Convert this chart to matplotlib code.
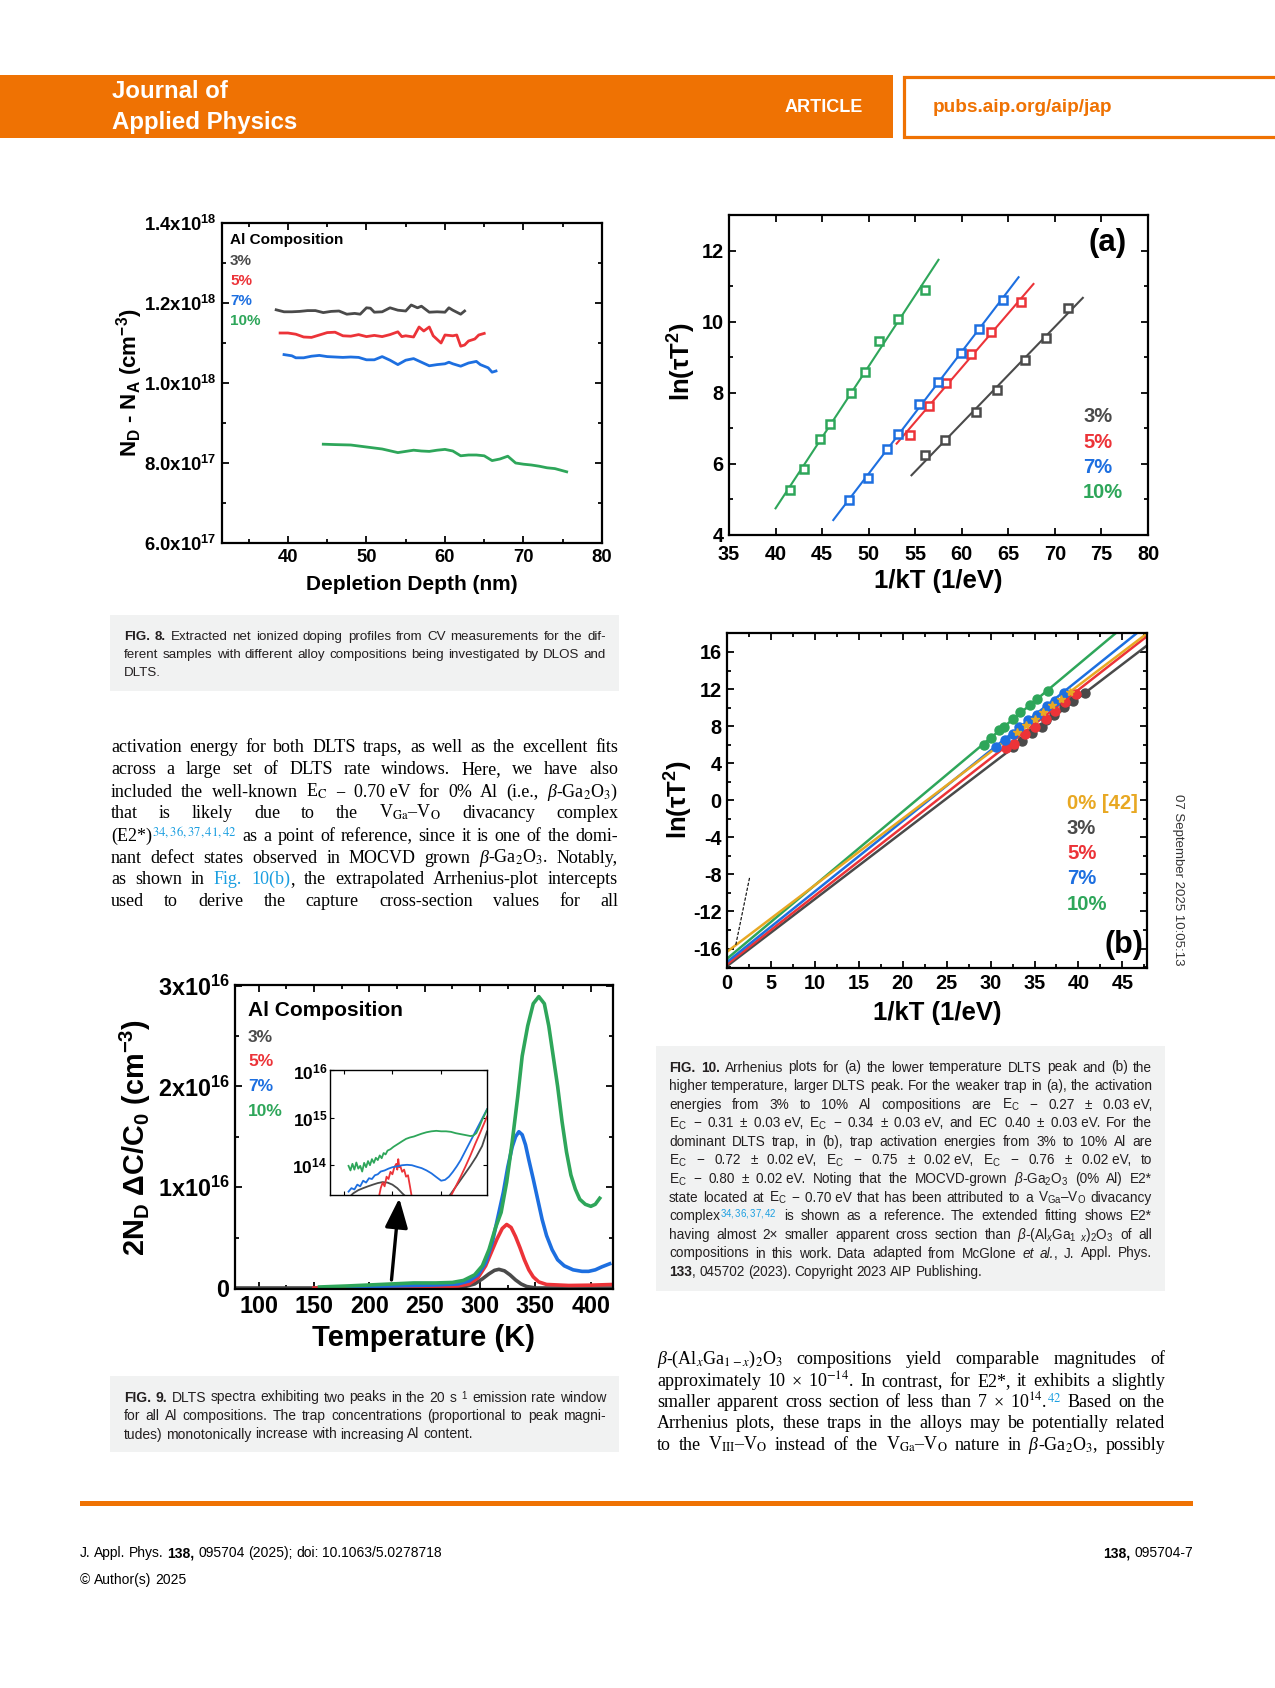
import numpy as np
import matplotlib
matplotlib.use('Agg')
import matplotlib.pyplot as plt
from matplotlib import font_manager
from matplotlib.patches import Rectangle
from matplotlib.ticker import MultipleLocator, FixedLocator, NullFormatter

# ---------------- data ----------------
# Fig. 8 : net doping profiles (depth nm, N_D-N_A in 1e18 cm^-3)
d3_x = [38.5, 39.5, 40.5, 41.5, 42.5, 43.5, 44.5, 45.5, 46.5, 47.5, 48.5, 49.2, 50.0, 50.5, 51.0,
        52.0, 53.0, 54.0, 55.0, 55.7, 56.5, 57.0, 58.0, 59.0, 60.0, 60.5, 61.0, 62.0, 62.5]
d3_y = [1.183, 1.178, 1.178, 1.179, 1.181, 1.181, 1.176, 1.179, 1.180, 1.172, 1.174, 1.172, 1.188, 1.187, 1.177,
        1.178, 1.188, 1.182, 1.180, 1.195, 1.188, 1.192, 1.177, 1.178, 1.177, 1.188, 1.182, 1.172, 1.180]
d5_x = [39, 40, 41, 42, 43, 44, 45, 46, 47, 48, 49, 50, 51, 52, 53, 54, 54.5, 55, 56, 56.7, 57.3,
        58, 58.5, 59.5, 60, 61, 61.5, 62, 62.5, 63, 63.8, 64.3, 65]
d5_y = [1.125, 1.125, 1.122, 1.115, 1.114, 1.120, 1.126, 1.127, 1.118, 1.117, 1.121, 1.116, 1.119, 1.116,
        1.121, 1.128, 1.116, 1.118, 1.115, 1.140, 1.130, 1.140, 1.118, 1.100, 1.120, 1.118, 1.120, 1.092,
        1.095, 1.105, 1.110, 1.120, 1.124]
d7_x = [39.5, 40.5, 41, 42, 43, 44, 45, 46, 47, 48, 49, 50, 51, 52, 53, 54, 55, 56, 57, 58, 59, 60,
        60.5, 61, 62, 63, 64, 64.5, 65.5, 66, 66.5]
d7_y = [1.071, 1.068, 1.063, 1.063, 1.067, 1.069, 1.066, 1.065, 1.064, 1.065, 1.064, 1.058, 1.058, 1.066,
        1.057, 1.046, 1.057, 1.061, 1.052, 1.043, 1.046, 1.048, 1.052, 1.048, 1.042, 1.050, 1.054, 1.046,
        1.038, 1.027, 1.030]
d10_x = [44.5, 46, 48, 50, 52, 54, 55, 56, 57, 58, 59, 60, 61, 62, 63, 64, 65, 66, 67, 68, 69, 70, 71,
         72, 73, 74, 75.5]
d10_y = [0.847, 0.846, 0.845, 0.840, 0.835, 0.826, 0.829, 0.832, 0.830, 0.829, 0.832, 0.834, 0.830, 0.818,
         0.820, 0.820, 0.818, 0.806, 0.810, 0.817, 0.800, 0.797, 0.795, 0.792, 0.788, 0.786, 0.778]
dop_ticks = [0.6e18, 0.8e18, 1.0e18, 1.2e18, 1.4e18]
dop_labels = ['6.0x10$^{\\mathbf{17}}$', '8.0x10$^{\\mathbf{17}}$', '1.0x10$^{\\mathbf{18}}$',
              '1.2x10$^{\\mathbf{18}}$', '1.4x10$^{\\mathbf{18}}$']

# Fig. 10(a) : lower temperature peak
a3_x = [56.1, 58.2, 61.5, 63.8, 66.8, 69.0, 71.4]
a3_y = [6.25, 6.67, 7.46, 8.09, 8.91, 9.55, 10.38]
a5_x = [54.4, 56.5, 58.3, 61.0, 63.1, 66.4]
a5_y = [6.8, 7.63, 8.27, 9.08, 9.7, 10.55]
a7_x = [47.9, 49.9, 52.0, 53.2, 55.4, 57.4, 59.9, 61.9, 64.4]
a7_y = [4.98, 5.59, 6.43, 6.83, 7.68, 8.3, 9.12, 9.78, 10.61]
a10_x = [41.6, 43.1, 44.8, 45.9, 48.1, 49.6, 51.1, 53.1, 56.0]
a10_y = [5.26, 5.87, 6.71, 7.13, 7.98, 8.58, 9.45, 10.08, 10.89]
a3_fit = ([54.6, 73.0], [5.68, 10.67])
a5_fit = ([53.0, 67.7], [6.57, 11.06])
a7_fit = ([46.2, 66.1], [4.42, 11.25])
a10_fit = ([40.0, 57.5], [4.75, 11.74])

# Fig. 10(b) : dominant trap, extrapolated fits
b3_x = [32.6, 33.6, 34.7, 35.9, 36.3, 37.2, 38.3, 39.4, 40.7]
b3_y = [5.7, 6.35, 7.25, 7.96, 8.7, 9.15, 10.05, 10.67, 11.57]
b5_x = [31.8, 32.7, 33.9, 35.1, 36.3, 37.3, 38.5, 39.7]
b5_y = [5.6, 6.1, 7.1, 7.9, 8.8, 9.6, 10.6, 11.5]
b7_x = [30.6, 31.6, 32.6, 33.2, 34.3, 35.3, 36.4, 37.3, 38.4]
b7_y = [5.8, 6.5, 7.2, 7.9, 8.7, 9.2, 10.2, 10.7, 11.6]
b10_x = [29.2, 30.1, 31.0, 31.5, 32.6, 33.4, 34.5, 35.3, 36.5]
b10_y = [5.98, 6.7, 7.6, 7.96, 8.76, 9.48, 10.3, 10.9, 11.75]
b0_x = [33, 34, 35, 36, 37, 38, 39]
b0_y = [7.36, 8.08, 8.8, 9.52, 10.24, 10.96, 11.68]
b0_fit = ([0, 47.8], [-16.35, 18.0])
b3_fit = ([0, 47.8], [-17.9, 16.7])
b5_fit = ([0, 47.8], [-17.7, 17.7])
b7_fit = ([0, 46.6], [-17.45, 18.0])
b10_fit = ([0, 44.2], [-17.1, 18.0])
b_guide = ([1.0, 2.6], [-15.6, -8.2])

# Fig. 9 : DLTS spectra (T in K, signal in 1e16 cm^-3)
t3 = [79, 200, 270, 285, 295, 302, 308, 313, 317, 322, 327, 332, 337, 342, 350, 420]
s3 = [0, 0, 0, 0.01, 0.04, 0.09, 0.14, 0.175, 0.185, 0.17, 0.13, 0.08, 0.04, 0.015, 0, 0]
t5 = [150, 200, 260, 280, 290, 298, 305, 310, 315, 320, 324, 328, 332, 336, 340, 344, 348, 353, 360,
      380, 400, 420]
s5 = [0.0, 0.005, 0.01, 0.02, 0.04, 0.1, 0.22, 0.35, 0.48, 0.59, 0.63, 0.6, 0.51, 0.4, 0.28, 0.18,
      0.11, 0.06, 0.035, 0.025, 0.028, 0.035]
t7 = [180, 220, 260, 280, 290, 298, 305, 311, 316, 321, 325, 329, 332, 335, 338, 341, 344, 348, 352,
      356, 360, 365, 370, 376, 384, 392, 398, 404, 410, 417]
s7 = [0.01, 0.02, 0.03, 0.04, 0.07, 0.13, 0.25, 0.45, 0.7, 0.95, 1.2, 1.4, 1.5, 1.55, 1.52, 1.42, 1.27,
      1.08, 0.88, 0.68, 0.52, 0.38, 0.28, 0.22, 0.18, 0.165, 0.165, 0.18, 0.21, 0.24]
t10 = [155, 180, 200, 220, 240, 260, 275, 285, 295, 302, 308, 314, 319, 324, 329, 334, 338, 343, 348,
       353, 358, 362, 366, 370, 374, 378, 382, 386, 390, 395, 400, 404, 408]
s10 = [0.01, 0.02, 0.03, 0.04, 0.05, 0.05, 0.055, 0.075, 0.13, 0.22, 0.38, 0.6, 0.75, 1.05, 1.45, 1.9,
       2.3, 2.6, 2.82, 2.89, 2.82, 2.6, 2.3, 2.0, 1.65, 1.35, 1.12, 0.98, 0.88, 0.83, 0.81, 0.83, 0.89]
dlts_ticks = [0, 1e16, 2e16, 3e16]
dlts_labels = ['0', '1x10$^{\\mathbf{16}}$', '2x10$^{\\mathbf{16}}$', '3x10$^{\\mathbf{16}}$']
arrow_tail = (220, 0.08e16)
arrow_tip = (227, 0.89e16)

# Fig. 9 inset, log scale (signal in 1e14 cm^-3)
i10_t = [155, 157, 159, 161, 163, 165, 167, 169, 171, 173, 175, 177, 179, 181, 183, 185, 187, 189, 191,
         193, 195, 198, 201, 204, 207, 210, 214, 218, 222, 226, 230, 235, 240, 245, 250, 255, 260, 265,
         270, 275, 280, 283, 286, 289, 292, 295, 297]
i10_s = [0.95, 0.76, 1.05, 0.79, 1.12, 0.83, 0.95, 0.72, 1.10, 0.89, 1.20, 0.98, 1.32, 1.10, 1.41, 1.26,
         1.58, 1.38, 1.78, 1.66, 2.0, 2.14, 2.4, 2.63, 2.88, 3.16, 3.55, 3.8, 3.98, 4.27, 4.57, 4.9, 5.13,
         5.25, 5.13, 5.13, 5.0, 4.68, 4.47, 4.27, 4.07, 4.17, 4.68, 6.3, 8.9, 12.0, 14.8]
i7_t = [155, 158, 161, 164, 167, 170, 173, 176, 179, 182, 185, 188, 192, 196, 200, 205, 210, 215, 220,
        225, 230, 235, 240, 245, 250, 254, 258, 262, 266, 270, 275, 280, 285, 290, 297]
i7_s = [0.27, 0.32, 0.30, 0.38, 0.35, 0.46, 0.42, 0.52, 0.50, 0.60, 0.63, 0.72, 0.76, 0.83, 0.89, 0.93,
        0.98, 1.0, 0.98, 0.91, 0.85, 0.76, 0.66, 0.55, 0.46, 0.48, 0.56, 0.71, 0.93, 1.26, 2.0, 3.16,
        5.0, 7.9, 15.1]
i5_t = [186, 188, 190, 192, 194, 196, 198, 200, 202, 204, 205, 206, 207, 208, 210, 212, 214, 216, 218,
        220, np.nan, 259, 265, 270, 275, 280, 285, 290, 297]
i5_s = [0.2, 0.32, 0.42, 0.35, 0.56, 0.5, 0.71, 0.63, 0.89, 1.05, 0.79, 1.32, 0.89, 0.95, 0.71, 0.79,
        0.56, 0.6, 0.35, 0.2, np.nan, 0.2, 0.35, 0.56, 0.93, 1.58, 2.8, 4.8, 10.5]
i3_t = [155, 160, 165, 170, 175, 180, 185, 190, 195, 200, 205, 210, 215, np.nan,
        257, 262, 268, 274, 280, 286, 292, 297]
i3_s = [0.2, 0.25, 0.29, 0.32, 0.35, 0.38, 0.41, 0.43, 0.42, 0.38, 0.32, 0.25, 0.2, np.nan,
        0.2, 0.28, 0.42, 0.63, 0.95, 1.48, 2.5, 5.1]

comps = ['3%', '5%', '7%', '10%']

# ---------------- style ----------------
W, H = 1275, 1688
ORANGE = '#ef7203'
GREY = '#4a4a4a'
RED = '#ec3338'
BLUE = '#1d6fe0'
GREEN = '#2ea65a'
GOLD = '#e8a823'
LINK = '#1a9ee0'
BOXC = '#f1f2f2'
colors = [GREY, RED, BLUE, GREEN]

plt.rcParams['font.family'] = ['Liberation Sans', 'DejaVu Sans']
plt.rcParams['axes.unicode_minus'] = False
plt.rcParams['mathtext.fontset'] = 'custom'
plt.rcParams['mathtext.rm'] = 'Liberation Sans'
plt.rcParams['mathtext.it'] = 'Liberation Sans:italic'
plt.rcParams['mathtext.bf'] = 'Liberation Sans:bold'


def has_font(name):
    try:
        font_manager.findfont(font_manager.FontProperties(family=name), fallback_to_default=False)
        return True
    except ValueError:
        return False


NARROW = has_font('Liberation Sans Narrow')
CAP_FAM = ['Liberation Sans Narrow', 'DejaVu Sans'] if NARROW else ['Liberation Sans', 'DejaVu Sans']
CAP_SIZE = 10.5 if NARROW else 10
SERIF = ['Liberation Serif', 'DejaVu Serif']

fig = plt.figure(figsize=(W / 100, H / 100), dpi=100)
fig.patch.set_facecolor('white')
rend = fig.canvas.get_renderer()


def px_axes(l, t, r, b):
    return fig.add_axes([l / W, 1 - b / H, (r - l) / W, (b - t) / H])


def ptext(x, y, s, **kw):
    return fig.text(x / W, 1 - y / H, s, **kw)


def btext(x, y, s, **kw):
    return ptext(x, y, s, weight='bold', **kw)


def rect(l, t, r, b, **kw):
    fig.add_artist(Rectangle((l / W, 1 - b / H), (r - l) / W, (b - t) / H,
                             transform=fig.transFigure, **kw))


def style(ax, size, lw=1.5, xpad=4):
    for s in ax.spines.values():
        s.set_linewidth(lw)
    ax.tick_params(which='both', direction='in', top=True, right=True, width=lw * 0.8,
                   labelsize=size, pad=4)
    ax.tick_params(axis='x', pad=xpad)
    ax.tick_params(which='major', length=5)
    ax.tick_params(which='minor', length=3)
    plt.setp(ax.get_xticklabels() + ax.get_yticklabels(), fontweight='bold')


# word helpers for the text blocks
def B(s):
    return {'s': s, 'weight': 'bold'}


def I(s):
    return {'s': s, 'style': 'italic'}


def L(s):
    return {'s': s, 'color': LINK}


def D(s):
    return {'s': s}


def words(*parts):
    out = []
    for p in parts:
        if isinstance(p, str):
            out += p.split()
        else:
            out.append(p)
    return out


def put_block(lines, x0, x1, size, family, color='#231f20', mfam=None):
    # lines: (baseline y, word list, align); one common font size per block
    built = []
    for y, wl, align in lines:
        rows = []
        for w in wl:
            pieces = w if isinstance(w, list) else [w]
            row = []
            for p in pieces:
                kw = dict(p) if isinstance(p, dict) else {'s': p}
                s = kw.pop('s')
                kw.setdefault('weight', 'normal')
                kw.setdefault('color', color)
                t = ptext(0, y, s, fontsize=size, family=family, va='baseline', ha='left', **kw)
                if mfam:
                    t.set_math_fontfamily(mfam)
                row.append(t)
            rows.append(row)
        built.append((y, rows, align))

    def measure(rows):
        return [[t.get_window_extent(rend).width for t in row] for row in rows]

    avail = x1 - x0
    gap0 = size * 100 / 72 * 0.26
    f = 1.0
    for y, rows, align in built:
        tot = sum(sum(r) for r in measure(rows))
        f = min(f, (avail - gap0 * (len(rows) - 1)) / tot * 0.99)
    if f < 1:
        for y, rows, align in built:
            for row in rows:
                for t in row:
                    t.set_fontsize(size * f)
        gap0 *= f
    for y, rows, align in built:
        ws = measure(rows)
        total = sum(sum(r) for r in ws)
        n = len(rows)
        if align == 'justify' and n > 1:
            gap = (avail - total) / (n - 1)
            x = x0
        elif align == 'right':
            gap = gap0
            x = x1 - total - gap0 * (n - 1)
        else:
            gap = gap0
            x = x0
        for row, wr in zip(rows, ws):
            for t, w in zip(row, wr):
                t.set_position((x / W, 1 - y / H))
                x += w
            x += gap


# ---------------- header ----------------
rect(0, 75, 893, 138, facecolor=ORANGE, edgecolor='none')
rect(903.5, 76.5, 1290, 136.5, facecolor='white', edgecolor=ORANGE, linewidth=2.3)
btext(112, 92, 'Journal of', color='white', fontsize=17.3, va='center')
btext(112, 122, 'Applied Physics', color='white', fontsize=17.3, va='center')
btext(824, 107, 'ARTICLE', color='white', fontsize=13, va='center', ha='center')
btext(933, 107, 'pubs.aip.org/aip/jap', color=ORANGE, fontsize=13.7, va='center')

# ---------------- Fig. 8 ----------------
ax8 = px_axes(222, 223, 602, 543)
for xs, ys, c in zip([d3_x, d5_x, d7_x, d10_x], [d3_y, d5_y, d7_y, d10_y], colors):
    ax8.plot(xs, np.array(ys) * 1e18, color=c, lw=2)
ax8.set_xlim(31.6, 80)
ax8.set_ylim(0.6e18, 1.4e18)
ax8.xaxis.set_major_locator(MultipleLocator(10))
ax8.xaxis.set_minor_locator(MultipleLocator(5))
ax8.set_yticks(dop_ticks, dop_labels)
ax8.yaxis.set_minor_locator(MultipleLocator(0.1e18))
style(ax8, 13.3, lw=1.6)
btext(412, 585, 'Depletion Depth (nm)', fontsize=15, ha='center', va='center')
btext(130, 383, 'N$_\\mathbf{D}$ - N$_\\mathbf{A}$ (cm$^\\mathbf{-3}$)', fontsize=16,
      rotation=90, ha='center', va='center')
btext(230, 240, 'Al Composition', fontsize=11, va='center')
for k, (lab, c) in enumerate(zip(comps, colors)):
    btext(230, 261 + 20 * k, lab, fontsize=11, va='center', color=c)

# caption 8
rect(110, 615, 619, 691, facecolor=BOXC, edgecolor='none')
put_block([
    (640, words(B('FIG.'), B('8.'), 'Extracted net ionized doping profiles from CV measurements for the dif-'), 'justify'),
    (658, words('ferent samples with different alloy compositions being investigated by DLOS and'), 'justify'),
    (676, words('DLTS.'), 'left'),
], 124, 606, CAP_SIZE, CAP_FAM)

# body text, left column
EC = 'E$_\\mathrm{C}$'
put_block([
    (752, words('activation energy for both DLTS traps, as well as the excellent fits'), 'justify'),
    (774, words('across a large set of DLTS rate windows. Here, we have also'), 'justify'),
    (797, words('included the well-known', EC, '−', D('0.70 eV'), 'for 0% Al (i.e.,', [I('β'), '-Ga$_2$O$_3$)']), 'justify'),
    (818, words('that is likely due to the', 'V$_\\mathrm{Ga}$–V$_\\mathrm{O}$', 'divacancy complex'), 'justify'),
    (841, words(['(E2*)', L('$^{34,36,37,41,42}$')], 'as a point of reference, since it is one of the domi-'), 'justify'),
    (863, words('nant defect states observed in MOCVD grown', [I('β'), '-Ga$_2$O$_3$.'], 'Notably,'), 'justify'),
    (884, words('as shown in', L('Fig.'), [L('10(b)'), ','], 'the extrapolated Arrhenius-plot intercepts'), 'justify'),
    (906, words('used to derive the capture cross-section values for all'), 'justify'),
], 111, 618, 13, SERIF, color='black', mfam='stix')

# ---------------- Fig. 10(a) ----------------
axa = px_axes(729, 215, 1148, 535)
for xs, ys, fit, c in zip([a3_x, a5_x, a7_x, a10_x], [a3_y, a5_y, a7_y, a10_y],
                          [a3_fit, a5_fit, a7_fit, a10_fit], colors):
    axa.plot(fit[0], fit[1], color=c, lw=1.5, zorder=2)
    axa.plot(xs, ys, 's', mfc='white', mec=c, mew=1.8, ms=6, zorder=3)
axa.set_xlim(35, 80)
axa.set_ylim(4, 13)
axa.xaxis.set_major_locator(MultipleLocator(5))
axa.yaxis.set_major_locator(MultipleLocator(2))
axa.yaxis.set_minor_locator(MultipleLocator(1))
style(axa, 14.3, lw=1.6, xpad=7)
btext(938, 581, '1/kT (1/eV)', fontsize=18.5, ha='center', va='center')
btext(682, 362, 'ln(τT$^\\mathbf{2}$)', fontsize=18.5, rotation=90, ha='center', va='center')
btext(1108, 243, '(a)', fontsize=22.5, ha='center', va='center')
for k, (lab, c) in enumerate(zip(comps, colors)):
    btext(1083, 417 + 25.3 * k, lab, fontsize=14.5, va='center', color=c)

# ---------------- Fig. 10(b) ----------------
axb = px_axes(727, 633, 1147, 968)
b_fits = [b3_fit, b5_fit, b7_fit, b10_fit, b0_fit]
b_cols = [GREY, RED, BLUE, GREEN, GOLD]
for fit, c in zip(b_fits, b_cols):
    axb.plot(fit[0], fit[1], color=c, lw=1.8, zorder=2)
for xs, ys, c in zip([b3_x, b5_x, b7_x, b10_x], [b3_y, b5_y, b7_y, b10_y], colors):
    axb.plot(xs, ys, 'o', color=c, ms=6.5, zorder=3)
axb.plot(b0_x, b0_y, '*', color=GOLD, ms=6, zorder=4)
axb.plot(b_guide[0], b_guide[1], color='black', lw=0.8, ls=(0, (3, 1.5)), zorder=4)
axb.set_xlim(0, 47.8)
axb.set_ylim(-18.1, 18.05)
axb.xaxis.set_major_locator(MultipleLocator(5))
axb.xaxis.set_minor_locator(MultipleLocator(2.5))
axb.yaxis.set_major_locator(MultipleLocator(4))
axb.yaxis.set_minor_locator(MultipleLocator(2))
style(axb, 14.3, lw=1.6)
btext(937, 1013, '1/kT (1/eV)', fontsize=18.5, ha='center', va='center')
btext(679, 800, 'ln(τT$^\\mathbf{2}$)', fontsize=18.5, rotation=90, ha='center', va='center')
btext(1124, 945, '(b)', fontsize=22, ha='center', va='center')
for k, (lab, c) in enumerate(zip(['0% [42]'] + comps, [GOLD] + colors)):
    btext(1067, 803 + 25.3 * k, lab, fontsize=14.6, va='center', color=c)
ptext(1178, 880, '07 September 2025 10:05:13', rotation=-90, ha='center', va='center',
      fontsize=9.5, color='#333333', family=CAP_FAM)

# caption 10
rect(656, 1046, 1165, 1291, facecolor=BOXC, edgecolor='none')
cap10 = [
    words(B('FIG.'), B('10.'), 'Arrhenius plots for (a) the lower temperature DLTS peak and (b) the'),
    words('higher temperature, larger DLTS peak. For the weaker trap in (a), the activation'),
    words('energies from 3% to 10% Al compositions are', EC, '− 0.27 ±', D('0.03 eV,')),
    words(EC, '− 0.31 ±', D('0.03 eV,'), EC, '− 0.34 ±', D('0.03 eV,'), 'and EC 0.40 ±', D('0.03 eV.'), 'For the'),
    words('dominant DLTS trap, in (b), trap activation energies from 3% to 10% Al are'),
    words(EC, '− 0.72 ±', D('0.02 eV,'), EC, '− 0.75 ±', D('0.02 eV,'), EC, '− 0.76 ±', D('0.02 eV,'), 'to'),
    words(EC, '− 0.80 ±', D('0.02 eV.'), 'Noting that the MOCVD-grown', [I('β'), '-Ga$_2$O$_3$'], '(0% Al) E2*'),
    words('state located at', EC, '−', D('0.70 eV'), 'that has been attributed to a',
          'V$_\\mathrm{Ga}$–V$_\\mathrm{O}$', 'divacancy'),
    words(['complex', L('$^{34,36,37,42}$')], 'is shown as a reference. The extended fitting shows E2*'),
    words('having almost 2× smaller apparent cross section than',
          [I('β'), '-(Al$_x$Ga$_{1\\ \\ x}$)$_2$O$_3$'], 'of all'),
    words('compositions in this work. Data adapted from McGlone', I('et'), [I('al.'), ','], 'J. Appl. Phys.'),
    words([B('133'), ','], '045702 (2023). Copyright 2023 AIP Publishing.'),
]
put_block([(1071.5 + 18.6 * k, wl, 'left' if k == len(cap10) - 1 else 'justify')
           for k, wl in enumerate(cap10)], 669, 1152, CAP_SIZE, CAP_FAM)

# ---------------- Fig. 9 ----------------
ax9 = px_axes(235, 985, 613, 1289)
for ts, ss, c in zip([t3, t5, t7, t10], [s3, s5, s7, s10], colors):
    ax9.plot(ts, np.array(ss) * 1e16, color=c, lw=2.6)
ax9.set_xlim(78.7, 420)
ax9.set_ylim(-0.01e16, 3.005e16)
ax9.xaxis.set_major_locator(MultipleLocator(50))
ax9.xaxis.set_minor_locator(MultipleLocator(25))
ax9.set_yticks(dlts_ticks, dlts_labels)
ax9.yaxis.set_minor_locator(MultipleLocator(0.5e16))
style(ax9, 16.8, lw=1.6)
ax9.annotate('', xy=arrow_tip, xytext=arrow_tail,
             arrowprops=dict(arrowstyle='-|>,head_length=0.9,head_width=0.35', lw=2.4,
                             color='black', mutation_scale=20, shrinkA=0, shrinkB=0))
btext(424, 1338, 'Temperature (K)', fontsize=21, ha='center', va='center')
btext(135, 1137, '2N$_\\mathbf{D}$ ΔC/C$_\\mathbf{0}$ (cm$^\\mathbf{-3}$)', fontsize=20.8,
      rotation=90, ha='center', va='center')
btext(248, 1010, 'Al Composition', fontsize=15, va='center')
for k, (lab, c) in enumerate(zip(comps, colors)):
    btext(248, 1037 + 24.7 * k, lab, fontsize=12.5, va='center', color=c)

axi = px_axes(330, 1070, 487, 1195)
for ts, ss, c in zip([i3_t, i5_t, i7_t, i10_t], [i3_s, i5_s, i7_s, i10_s], colors):
    axi.plot(ts, np.array(ss) * 1e14, color=c, lw=1.3)
axi.set_yscale('log')
axi.set_xlim(136, 297)
axi.set_ylim(10 ** 13.36, 10 ** 16.01)
axi.xaxis.set_major_locator(FixedLocator([150, 200, 250]))
axi.xaxis.set_major_formatter(NullFormatter())
axi.xaxis.set_minor_locator(FixedLocator([]))
axi.set_yticks([1e14, 1e15, 1e16], ['10$^{\\mathbf{14}}$', '10$^{\\mathbf{15}}$', '10$^{\\mathbf{16}}$'])
axi.yaxis.set_minor_locator(FixedLocator([]))
style(axi, 12.5, lw=1.0)
axi.tick_params(which='major', length=3, pad=2)

# caption 9
rect(110, 1376, 619, 1452, facecolor=BOXC, edgecolor='none')
put_block([
    (1401.5, words(B('FIG.'), B('9.'), 'DLTS spectra exhibiting two peaks in the 20 s', '$^{1}$',
                   'emission rate window'), 'justify'),
    (1420, words('for all Al compositions. The trap concentrations (proportional to peak magni-'), 'justify'),
    (1438.5, words('tudes) monotonically increase with increasing Al content.'), 'left'),
], 124, 606, CAP_SIZE, CAP_FAM)

# body text, right column
put_block([
    (1364, words([I('β'), '-(Al$_x$Ga$_{1-x}$)$_2$O$_3$'], 'compositions yield comparable magnitudes of'), 'justify'),
    (1386, words('approximately 10 × 10$^{-14}$. In contrast, for E2*, it exhibits a slightly'), 'justify'),
    (1407, words('smaller apparent cross section of less than 7 ×', ['10$^{14}$.', L('$^{42}$')], 'Based on the'), 'justify'),
    (1428, words('Arrhenius plots, these traps in the alloys may be potentially related'), 'justify'),
    (1450, words('to the', 'V$_\\mathrm{III}$–V$_\\mathrm{O}$', 'instead of the', 'V$_\\mathrm{Ga}$–V$_\\mathrm{O}$',
                 'nature in', [I('β'), '-Ga$_2$O$_3$,'], 'possibly'), 'justify'),
], 657, 1165, 13, SERIF, color='black', mfam='stix')

# ---------------- footer ----------------
rect(80, 1501, 1193, 1506, facecolor=ORANGE, edgecolor='none')
put_block([(1557, words('J. Appl. Phys.', B('138,'), '095704 (2025); doi: 10.1063/5.0278718'), 'left'),
           (1584, words('© Author(s) 2025'), 'left')], 80, 700, CAP_SIZE, CAP_FAM, color='black')
put_block([(1557, words(B('138,'), '095704-7'), 'right')], 900, 1193, CAP_SIZE, CAP_FAM, color='black')

fig.savefig('out.png', dpi=100, facecolor='white')
